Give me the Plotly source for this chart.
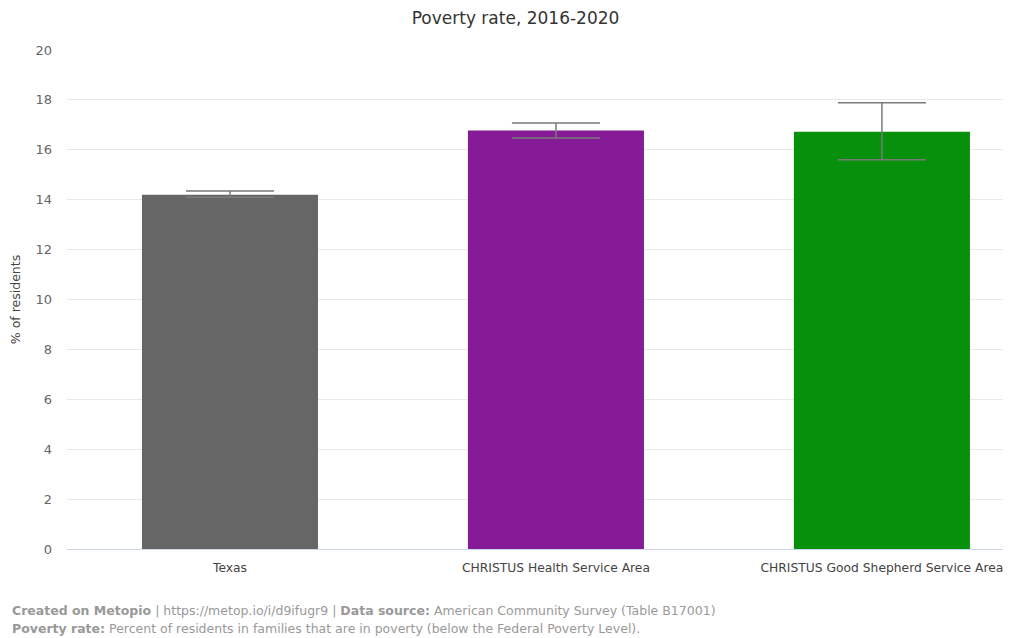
import plotly.graph_objects as go

categories = ["Texas", "CHRISTUS Health Service Area", "CHRISTUS Good Shepherd Service Area"]
values = [14.2, 16.77, 16.72]
err_plus = [0.15, 0.3, 1.17]
err_minus = [0.1, 0.3, 1.12]
colors = ["#666666", "#861b98", "#07900c"]
y_ticks = [0, 2, 4, 6, 8, 10, 12, 14, 16, 18, 20]

FONT = "DejaVu Sans"

fig = go.Figure()
fig.add_trace(go.Bar(
    x=categories, y=values, marker=dict(color=colors, line=dict(width=0)),
    width=0.54,
    error_y=dict(type="data", symmetric=False, array=err_plus, arrayminus=err_minus,
                 color="#7a7a7a", thickness=1.5, width=44),
    hoverinfo="x+y",
))

fig.update_layout(
    width=1003, height=630,
    margin=dict(l=59, r=0, t=42, b=89),
    paper_bgcolor="white", plot_bgcolor="white",
    font=dict(family=FONT, size=12, color="#666666"),
    title=dict(text="Poverty rate, 2016-2020", x=0.506, xanchor="center", y=0.984, yanchor="middle",
               font=dict(family=FONT, size=17, color="#333333")),
    showlegend=False,
    xaxis=dict(range=[-0.5, 2.396], showgrid=False, showline=True, linecolor="#ccd6eb", linewidth=1,
               ticks="", ticklabelstandoff=7, tickfont=dict(size=12.3, color="#444444"), fixedrange=True),
    yaxis=dict(range=[0, 20], tickvals=y_ticks, showgrid=True, gridcolor="#e9e9e9", gridwidth=1,
               zeroline=False, showline=False, ticks="", ticklabelstandoff=14,
               tickfont=dict(size=13, color="#666666"),
               title=dict(text="% of residents", standoff=15, font=dict(size=12.5, color="#444444"))),
    annotations=[
        dict(xref="paper", yref="paper", x=-0.0604, y=0, xanchor="left", yanchor="middle", yshift=-61,
             showarrow=False, align="left",
             text="<b>Created on Metopio</b> | https://metop.io/i/d9ifugr9 | <b>Data source:</b> American Community Survey (Table B17001)",
             font=dict(family=FONT, size=12.5, color="#999999")),
        dict(xref="paper", yref="paper", x=-0.0604, y=0, xanchor="left", yanchor="middle", yshift=-79,
             showarrow=False, align="left",
             text="<b>Poverty rate:</b> Percent of residents in families that are in poverty (below the Federal Poverty Level).",
             font=dict(family=FONT, size=12.5, color="#999999")),
    ],
)

fig.write_html("out.html")
